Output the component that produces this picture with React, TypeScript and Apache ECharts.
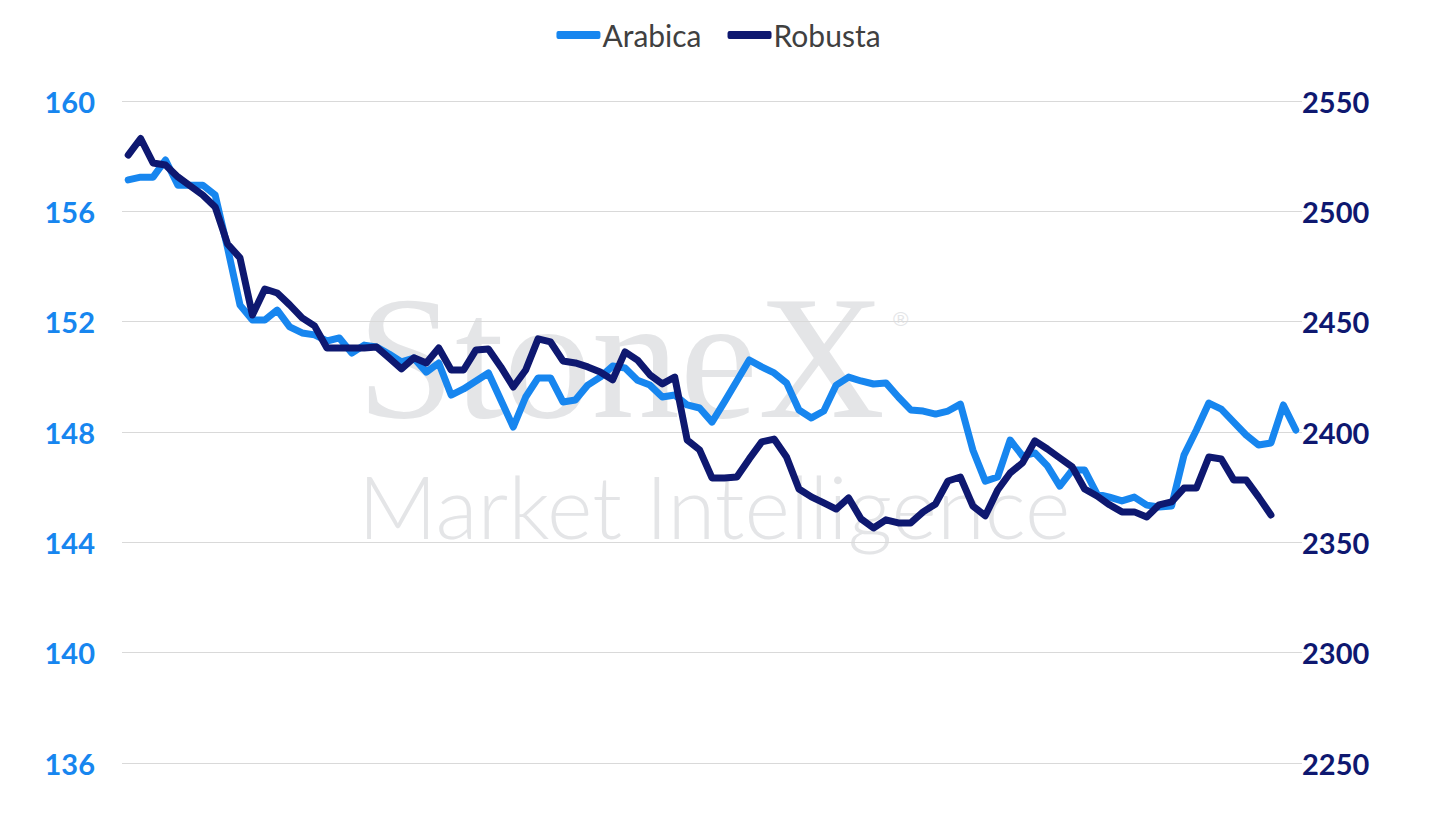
import { useEffect, useRef } from "react";
import * as echarts from "echarts";

// Arabica (left axis) and Robusta (right axis), one reading per trading day
const arabica = [
  157.14, 157.24, 157.24, 157.86, 156.95, 156.95, 156.95, 156.59, 154.67, 152.6,
  152.06, 152.06, 152.42, 151.81, 151.59, 151.52, 151.3, 151.41, 150.86, 151.15,
  151.08, 150.83, 150.54, 150.68, 150.17, 150.5, 149.34, 149.56, 149.85, 150.14,
  149.16, 148.18, 149.27, 149.96, 149.96, 149.09, 149.16, 149.7, 149.99, 150.39,
  150.32, 149.88, 149.7, 149.27, 149.34, 148.98, 148.87, 148.36, 149.09, 149.85,
  150.61, 150.36, 150.14, 149.78, 148.8, 148.51, 148.76, 149.7, 149.99, 149.85,
  149.74, 149.78, 149.27, 148.8, 148.76, 148.65, 148.76, 149.01, 147.35, 146.22,
  146.37, 147.71, 147.13, 147.24, 146.77, 146.04, 146.62, 146.62, 145.75, 145.64,
  145.5, 145.64, 145.35, 145.28, 145.32, 147.16, 148.07, 149.05, 148.83, 148.36,
  147.89, 147.53, 147.6, 148.98, 148.07,
];

const robusta = [
  2525.5, 2533.0, 2521.9, 2521.0, 2515.6, 2511.5, 2507.4, 2502.0, 2485.2, 2478.9,
  2453.0, 2464.8, 2463.0, 2457.6, 2451.7, 2448.1, 2438.1, 2438.1, 2438.1, 2438.1,
  2438.5, 2433.6, 2428.6, 2433.6, 2431.3, 2438.1, 2428.1, 2428.1, 2437.2, 2437.6,
  2429.5, 2420.4, 2428.1, 2442.2, 2440.8, 2432.2, 2431.3, 2429.5, 2427.2, 2423.6,
  2436.3, 2432.6, 2425.9, 2421.8, 2424.9, 2396.4, 2391.9, 2379.2, 2379.2, 2379.6,
  2387.8, 2395.5, 2396.8, 2388.7, 2374.2, 2370.6, 2367.9, 2365.1, 2370.1, 2360.6,
  2356.5, 2360.2, 2358.8, 2358.8, 2363.8, 2367.4, 2377.8, 2379.6, 2366.5, 2362.0,
  2373.7, 2381.4, 2386.0, 2396.0, 2392.3, 2388.2, 2384.2, 2374.2, 2371.0, 2367.0,
  2363.8, 2363.8, 2361.5, 2367.0, 2368.3, 2374.6, 2374.6, 2388.7, 2387.8, 2378.3,
  2378.3, 2370.6, 2362.4,
];

// x axis has no labels in the source; days are just numbered
const days = arabica.map((_, i) => String(i + 1));

const ARABICA = "#1786ef";
const ROBUSTA = "#0e1870";
const FONT = "Lato, 'Noto Sans', sans-serif";

export default function App() {
  const ref = useRef<HTMLDivElement>(null);

  useEffect(() => {
    document.body.style.margin = "0";
    if (!ref.current) return;
    const chart = echarts.init(ref.current, null, { renderer: "svg" });

    chart.setOption({
      animation: false,
      backgroundColor: "#fff",
      textStyle: { fontFamily: FONT },
      legend: {
        top: 15,
        left: "center",
        icon: "roundRect",
        itemWidth: 44,
        itemHeight: 8,
        itemGap: 26,
        textStyle: { fontSize: 30, color: "#404040", fontFamily: FONT, padding: [0, 0, 0, -3] },
        data: ["Arabica", "Robusta"],
      },
      grid: { left: 122, right: 135, top: 101, bottom: 64 },
      graphic: [
        {
          type: "text",
          left: 357,
          top: 269,
          z: -1,
          style: {
            text: "StoneX",
            font: "176px 'Liberation Serif', serif",
            fill: "#e4e5e7",
          },
        },
        {
          type: "text",
          left: 893,
          top: 308,
          z: -1,
          style: { text: "®", font: "21px 'Liberation Sans', sans-serif", fill: "#e4e5e7" },
        },
        {
          type: "text",
          left: 358,
          top: 462,
          z: -1,
          style: {
            text: "Market Intelligence",
            font: "300 87px Lato, sans-serif",
            fill: "#e4e5e7",
          },
        },
      ],
      xAxis: {
        type: "category",
        data: days,
        boundaryGap: true,
        axisLine: { show: false },
        axisTick: { show: false },
        axisLabel: { show: false },
      },
      yAxis: [
        {
          type: "value",
          min: 136,
          max: 160,
          interval: 4,
          position: "left",
          axisLine: { show: false },
          axisTick: { show: false },
          splitLine: { lineStyle: { color: "#d9d9d9", width: 1 } },
          axisLabel: {
            color: ARABICA,
            fontSize: 29,
            fontWeight: "bold",
            fontFamily: FONT,
            margin: 27,
          },
        },
        {
          type: "value",
          min: 2250,
          max: 2550,
          interval: 50,
          position: "right",
          axisLine: { show: false },
          axisTick: { show: false },
          splitLine: { show: false },
          axisLabel: {
            color: ROBUSTA,
            fontSize: 29,
            fontWeight: "bold",
            fontFamily: FONT,
            margin: 0,
            formatter: (v: number) => String(v),
          },
        },
      ],
      series: [
        {
          name: "Arabica",
          type: "line",
          yAxisIndex: 0,
          data: arabica,
          showSymbol: false,
          symbol: "none",
          color: ARABICA,
          lineStyle: { width: 7, color: ARABICA, join: "round", cap: "round" },
          z: 3,
        },
        {
          name: "Robusta",
          type: "line",
          yAxisIndex: 1,
          data: robusta,
          showSymbol: false,
          symbol: "none",
          color: ROBUSTA,
          lineStyle: { width: 7, color: ROBUSTA, join: "round", cap: "round" },
          z: 4,
        },
      ],
    });

    return () => {
      chart.dispose();
    };
  }, []);

  return <div ref={ref} style={{ width: 1437, height: 827 }} />;
}
